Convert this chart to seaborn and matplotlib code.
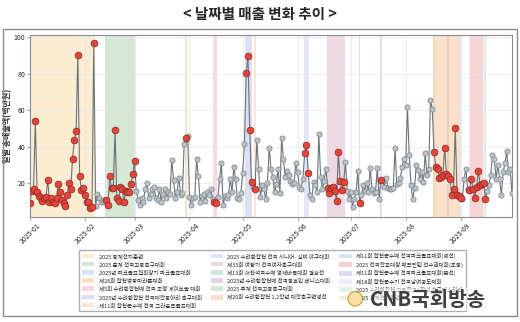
import numpy as np
import pandas as pd
import matplotlib
matplotlib.use("Agg")
import matplotlib.pyplot as plt
import matplotlib.dates as mdates
from matplotlib.patches import Patch, Rectangle, Ellipse
import seaborn as sns

# Daily total sales (million KRW), one list per month
sales_jan = [9, 16, 17, 54, 15, 13, 12, 10.5, 12, 12.5, 22, 10, 12, 10, 9, 12, 19.5, 15, 11, 9,
             7.5, 13.5, 20, 17, 33.5, 43.5, 48.5, 90.5, 24, 16.5, 17.5]
sales_feb = [13.5, 10, 9.5, 6.5, 7, 97, 7.5, 14, 12, 10, 11, 10, 11, 8, 24, 17.5, 17.5, 49, 12, 10.5,
             18, 17, 10, 16, 15.5, 15.5, 19.5, 25]
sales_mar = [32, 16, 11, 8, 12, 10, 17, 20, 12, 14, 17, 18, 12, 11, 17, 10, 14, 17, 12, 15,
             14, 33, 22, 12, 15.5, 23, 13.5, 14.5, 41.5, 45, 46]
sales_apr = [12.5, 8, 12, 12.5, 33.5, 24, 10, 13, 14, 10.5, 15, 13.5, 17, 11.5, 10, 9, 12.5, 22.5, 31, 8,
             13, 12, 13.5, 22.5, 15, 29, 22.5, 12, 11.5, 14.5]
sales_may = [25.5, 41.5, 80.5, 90, 49.5, 20.5, 18, 17, 43.5, 28, 12.5, 19, 17, 11.5, 20, 39.5, 28, 23.5, 15, 19.5,
             28, 14.5, 45, 33.5, 23.5, 27, 24.5, 21.5, 19.5, 20, 31]
sales_jun = [26, 18, 17, 22.5, 36.5, 41, 25.5, 13.5, 11.5, 20.5, 19, 15, 47, 23.5, 17, 21.5, 28, 17.5, 14.5, 17.5,
             18, 16, 10.5, 37, 21, 16.5, 20.5, 31.5, 16, 11.5]
sales_jul = [15, 7, 11.5, 15, 27, 9, 13.5, 19, 16, 20, 15.5, 28.5, 17, 14.5, 15.5, 28.5, 11.5, 22, 21.5, 18,
             23, 17.5, 17, 17, 17.5, 39.5, 19.5, 20, 23, 29, 33.5]
sales_aug = [30, 62, 35.5, 19, 11.5, 17.5, 30, 27.5, 22.5, 26, 20.5, 36.5, 24.5, 28, 65.5, 61, 37, 29, 28, 23,
             23.5, 24.5, 39.5, 25, 24, 22.5, 13.5, 17, 50.5, 13.5, 13]
sales_sep = [12, 11.5, 22.5, 28, 17, 16.5, 22.5, 17, 12, 18, 27, 19, 19.5, 20, 11.5, 16, 19, 24.5, 35.5, 33.5,
             22.5, 30, 22.5, 13.5, 26, 31, 37.5, 26, 28, 14.5]

# Local events held in the county
event_names = [
    "2025 동계전지훈련",
    "2025 춘계 전국고등축구대회",
    "2025년 파크골프협회장기 파크골프대회",
    "제26회 합천벚꽃마라톤대회",
    "제5회 수려한합천배 전국 조정 게이트볼 대회",
    "2025년 수려한합천 전국대학동아리 축구대회",
    "제11회 합천군수배 전국 그라운드골프대회",
    "2025 수려한합천 전국 시니어·실버 야구대회",
    "제33회 여왕기 전국여자축구대회",
    "제13회 허찬석국수배 영재바둑대회 결승전",
    "2025년 수려한합천배 전국동호인 테니스대회",
    "2025 추계 전국고등축구대회",
    "제20회 수려한합천 1,2학년 대학축구연맹전",
    "제11회 합천군수배 전국파크골프대회(예선)",
    "2025 전국학교대항 배드민턴 선수권대회(초등)",
    "제11회 합천군수배 전국파크골프대회(본선)",
    "제18회 합천군수기 전국남여궁도대회",
    "2025 수려한합천 고등학교1학년 축구페스티벌",
    "2025 하계전지훈련",
]
event_starts = ["2025-01-01", "2025-02-13", "2025-03-01", "2025-03-30", "2025-04-15",
                "2025-05-03", "2025-05-08", "2025-06-05", "2025-06-18", "2025-07-06",
                "2025-07-18", "2025-08-25", "2025-08-17", "2025-09-01", "2025-09-07",
                "2025-09-15", "2025-09-06", "2025-09-14", "2025-08-17"]
event_ends = ["2025-02-06", "2025-02-28", "2025-03-01", "2025-03-30", "2025-04-16",
              "2025-05-06", "2025-05-08", "2025-06-07", "2025-06-27", "2025-07-06",
              "2025-07-18", "2025-08-25", "2025-08-31", "2025-09-01", "2025-09-13",
              "2025-09-15", "2025-09-06", "2025-09-14", "2025-08-17"]
event_colors = ["#f7c873", "#7fb77e", "#8fb4e3", "#f4a460", "#ee8c9a",
                "#9b9be0", "#f6b27a", "#a9b8ea", "#c98aa8", "#7fb2a8",
                "#b48ab8", "#8cc084", "#f4a35f", "#93b8e0", "#e07a80",
                "#9a9ad6", "#c8c8ee", "#b8dca8", "#f2c89a"]

sns.set_style("whitegrid")
plt.rcParams["font.family"] = ["Noto Sans CJK KR", "DejaVu Sans"]
plt.rcParams["axes.unicode_minus"] = False

sales = (sales_jan + sales_feb + sales_mar + sales_apr + sales_may +
         sales_jun + sales_jul + sales_aug + sales_sep)
dates = pd.date_range("2025-01-01", "2025-09-30", freq="D")
df = pd.DataFrame({"date": dates, "sales": sales})
in_event = np.zeros(len(df), dtype=bool)
for s, e in zip(event_starts, event_ends):
    in_event |= ((df["date"] >= pd.Timestamp(s)) & (df["date"] <= pd.Timestamp(e))).to_numpy()
df["kind"] = np.where(in_event, "행사", "평일")

fig = plt.figure(figsize=(5.2, 3.22), dpi=100)
ax = fig.add_axes([0.0577, 0.326, 0.9269, 0.565])

half = pd.Timedelta(hours=12)
for s, e, c in zip(event_starts, event_ends, event_colors):
    ax.axvspan(pd.Timestamp(s) - half, pd.Timestamp(e) + half, color=c, alpha=0.32, lw=0, zorder=0)

sns.lineplot(data=df, x="date", y="sales", color="#68737a", lw=0.8, ax=ax, zorder=2)
sns.scatterplot(data=df[df["kind"] == "평일"], x="date", y="sales", color="#bcc3c7",
                edgecolor="#78828a", linewidth=0.5, s=14, ax=ax, zorder=3)
sns.scatterplot(data=df[df["kind"] == "행사"], x="date", y="sales", color="#e0463c",
                edgecolor="#8f261f", linewidth=0.5, s=24, ax=ax, zorder=4)

ax.set_xlim(dates[0], dates[-1])
ax.set_ylim(1.5, 101.3)
ax.set_yticks([20, 40, 60, 80, 100])
ax.xaxis.set_major_locator(mdates.MonthLocator())
ax.xaxis.set_major_formatter(mdates.DateFormatter("%Y-%m"))
ax.tick_params(axis="both", labelsize=5, length=2, width=0.5, color="#777777", pad=1.5,
               bottom=True, left=True)
plt.setp(ax.get_xticklabels(), rotation=45, ha="center")
ax.set_xlabel("")
ax.set_ylabel("일별 총매출액(백만원)", fontsize=5.8, fontweight="bold", labelpad=2)
ax.yaxis.set_label_coords(-0.036, 0.5)
ax.grid(color="#e6e6e6", lw=0.5)
for sp in ax.spines.values():
    sp.set_color("#8c8c8c")
    sp.set_linewidth(0.8)

handles = [Patch(facecolor=c, alpha=0.35, edgecolor="none", label=n)
           for n, c in zip(event_names, event_colors)]
fig.legend(handles=handles, loc="upper center", bbox_to_anchor=(0.524, 0.232), ncol=3,
           fontsize=4, frameon=True, fancybox=False, edgecolor="#9a9a9a",
           handlelength=2.2, handleheight=0.9, labelspacing=0.45, columnspacing=1.6,
           borderpad=0.5, handletextpad=0.8)

fig.text(0.5, 0.958, "< 날짜별 매출 변화 추이 >", ha="center", va="center",
         fontsize=10.5, fontweight="bold")
fig.add_artist(Rectangle((0.0058, 0.0186), 0.988, 0.891, transform=fig.transFigure,
                         fill=False, edgecolor="#8a8a8a", lw=1))

# broadcaster mark drawn over the legend corner
fig.add_artist(Ellipse((0.683, 0.072), 0.028, 0.045, transform=fig.transFigure,
                       facecolor="#f6dfa8", edgecolor="#d49a2e", lw=0.8, zorder=10))
fig.text(0.935, 0.07, "CNB국회방송", ha="right", va="center", fontsize=14.5,
         fontweight="bold", color="#3f3f3f", zorder=11,
         bbox=dict(facecolor="white", edgecolor="none", alpha=0.55, pad=0.5))

fig.savefig("out.png", dpi=100)
